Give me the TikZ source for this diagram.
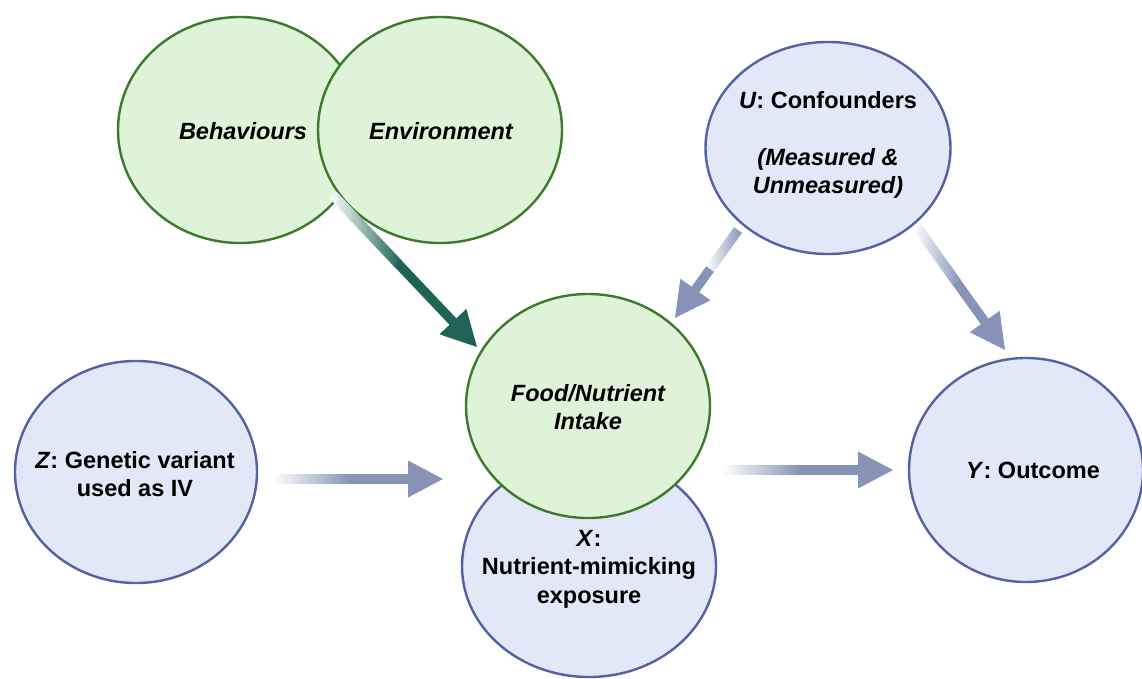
\documentclass[tikz,border=0pt]{standalone}
\usepackage{fontspec}
\setmainfont{Liberation Sans}
\usetikzlibrary{shapes.geometric,calc}
\definecolor{gfill}{HTML}{DFF3D8}
\definecolor{gstroke}{HTML}{3D7A2C}
\definecolor{bfill}{HTML}{E2E8F8}
\definecolor{bstroke}{HTML}{5462A3}
\definecolor{arrblue}{HTML}{8794B8}
\definecolor{arrgreen}{HTML}{1F6357}
\tikzset{
  gell/.style={ellipse, draw=gstroke, fill=gfill, line width=2.4pt, inner sep=0pt},
  bell/.style={ellipse, draw=bstroke, fill=bfill, line width=2.4pt, inner sep=0pt},
  lbl/.style={align=center, inner sep=0pt, font=\fontsize{23.5}{28.5}\selectfont\bfseries},
}
% gradient arrow from named coordinate #1 to named coordinate #2 in colour #3
\newcommand\gradarrow[3]{%
  \path (#1); \pgfgetlastxy{\gaxa}{\gaya}%
  \path (#2); \pgfgetlastxy{\gaxb}{\gayb}%
  \pgfmathsetmacro\gaang{atan2(\gayb-\gaya,\gaxb-\gaxa)}%
  \pgfmathsetmacro\galen{veclen(\gayb-\gaya,\gaxb-\gaxa)}%
  \pgfmathsetmacro\gafade{0.45*\galen}%
  \pgfmathsetmacro\gabase{\galen-35}%
  \begin{scope}[shift={(#1)}, rotate=\gaang]
    \shade[left color=white, right color=#3] (0,-4.9) rectangle (\gafade,4.9);
    \fill[#3] (\gafade-0.6,-4.7) rectangle (\gabase+1,4.7);
    \fill[#3] (\gabase,-18.5) -- (\galen,0) -- (\gabase,18.5) -- cycle;
  \end{scope}}
\begin{document}
\begin{tikzpicture}[x=1pt,y=-1pt]
\useasboundingbox (0,0) rectangle (1142,679);
\fill[white] (0,0) rectangle (1142,679);
% ellipses
\node[gell, minimum width=244pt, minimum height=226pt] (beh) at (240,130) {};
\node[gell, minimum width=244pt, minimum height=226pt] (env) at (440,130) {};
\node[bell, minimum width=254pt, minimum height=222pt] (X) at (589,566) {};
\node[gell, minimum width=244pt, minimum height=224pt] (food) at (588,406) {};
\node[bell, minimum width=242pt, minimum height=222pt] (Z) at (136,472) {};
\node[bell, minimum width=245pt, minimum height=212pt] (U) at (828,148) {};
\node[bell, minimum width=234pt, minimum height=224pt] (Y) at (1026,470) {};
% labels
\node[lbl] (behT) at (243,131) {\itshape Behaviours};
\node[lbl] (envT) at (441,131) {\itshape Environment};
\node[lbl] (uT) at (828,145) {\textit{U}: Confounders\\ \mbox{}\\ \textit{(Measured \&}\\ \textit{Unmeasured)}};
\node[lbl] (foodT) at (588,407) {\itshape Food/Nutrient\\ \itshape Intake};
\node[lbl] (xT) at (589,569) {\textit{X}:\\ Nutrient-mimicking\\ exposure};
\node[lbl] (zT) at (135,474) {\textit{Z}: Genetic variant\\ used as IV};
\node[lbl] (yT) at (1033,470) {\textit{Y}: Outcome};
% connector end points
\coordinate (g1) at (333,195);
\coordinate (g2) at (477,347);
\coordinate (u1s) at (738,230);
\coordinate (u1e) at (675,318);
\coordinate (u2s) at (917,227);
\coordinate (u2e) at (1005,350);
\coordinate (zs) at (273,479);
\coordinate (ze) at (443,479);
\coordinate (xs) at (722,470);
\coordinate (xe) at (893,470);
% connectors
\gradarrow{g1}{g2}{arrgreen}
\gradarrow{u1s}{u1e}{arrblue}
\gradarrow{u2s}{u2e}{arrblue}
\gradarrow{zs}{ze}{arrblue}
\gradarrow{xs}{xe}{arrblue}
\end{tikzpicture}
\end{document}
